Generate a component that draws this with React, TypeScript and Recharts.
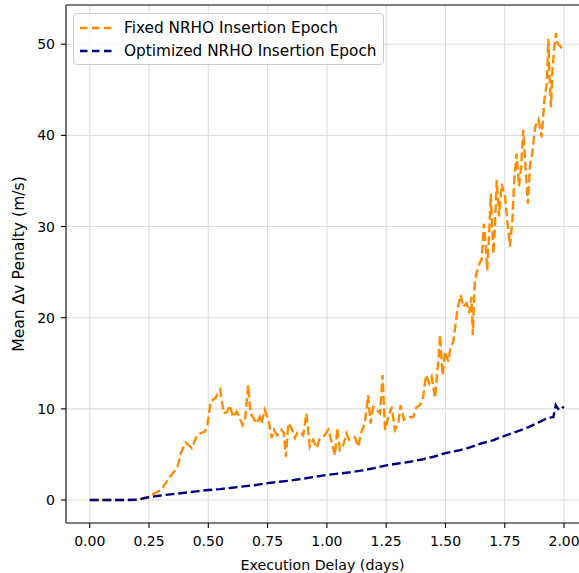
import React from 'react';
import { LineChart, Line, XAxis, YAxis, CartesianGrid, Legend, ReferenceLine } from 'recharts';

// Fixed insertion epoch: delay (days) vs mean penalty (m/s)
const fixedDelay = [
  0, 0.05, 0.1, 0.15, 0.2, 0.21, 0.25, 0.3, 0.34, 0.37, 0.385, 0.405, 0.43, 0.455, 0.485, 0.495,
  0.51, 0.53, 0.55, 0.565, 0.58, 0.59, 0.605, 0.62, 0.645, 0.655, 0.668, 0.678, 0.69, 0.703,
  0.717, 0.724, 0.738, 0.757, 0.767, 0.776, 0.79, 0.809, 0.818, 0.827, 0.837, 0.851, 0.865,
  0.876, 0.886, 0.9, 0.914, 0.928, 0.942, 0.957, 0.968, 0.985, 1.006, 1.02, 1.034, 1.044,
  1.055, 1.069, 1.083, 1.094, 1.104, 1.118, 1.132, 1.146, 1.16, 1.174, 1.184, 1.195, 1.21,
  1.224, 1.235, 1.245, 1.259, 1.273, 1.287, 1.301, 1.311, 1.325, 1.343, 1.364, 1.378, 1.392,
  1.406, 1.418, 1.432, 1.442, 1.456, 1.465, 1.47, 1.477, 1.488, 1.498, 1.512, 1.522, 1.533,
  1.54, 1.55, 1.564, 1.575, 1.589, 1.6, 1.61, 1.615, 1.624, 1.638, 1.653, 1.662, 1.671, 1.676,
  1.685, 1.691, 1.702, 1.709, 1.716, 1.726, 1.737, 1.751, 1.762, 1.772, 1.782, 1.79, 1.8, 1.81,
  1.819, 1.828, 1.835, 1.847, 1.857, 1.866, 1.878, 1.892, 1.906, 1.917, 1.927, 1.934, 1.938,
  1.945, 1.951, 1.959, 1.966, 1.973, 2.0,
];
const fixedPenalty = [
  0, 0, 0, 0, 0, 0.05, 0.4, 1.1, 2.6, 3.6, 5.2, 6.3, 5.7, 7.2, 7.5, 8.0,
  10.8, 11.2, 12.1, 9.5, 9.7, 10.4, 9.1, 9.7, 8.2, 8.8, 12.6, 9.5, 9.0, 8.4,
  9.1, 8.4, 9.9, 8.4, 6.8, 7.7, 7.1, 7.7, 7.4, 4.75, 8.4, 7.9, 6.8,
  7.4, 7.5, 7.1, 9.5, 5.85, 6.6, 5.7, 6.6, 6.9, 7.7, 6.4, 4.9, 7.9,
  5.5, 6.0, 7.3, 6.6, 6.8, 6.9, 5.85, 7.5, 8.4, 11.5, 8.4, 10.2, 9.9,
  9.5, 13.7, 7.7, 9.1, 10.2, 7.7, 8.4, 10.4, 8.8, 9.1, 9.1, 10.2, 10.4,
  11.3, 13.7, 12.8, 13.5, 11.2, 13.9, 15.2, 18.1, 13.7, 16.3, 15.2, 16.8, 17.4,
  18.8, 20.8, 22.5, 21.2, 21.6, 20.5, 22.3, 18.1, 24.1, 25.6, 26.5, 30.3, 27.4, 25.2,
  29.6, 33.6, 27.0, 30.3, 35.1, 31.1, 34.7, 33.3, 30.3, 27.8, 30.7, 35.1, 38.0, 34.4,
  36.5, 40.6, 37.6, 32.5, 36.9, 38.0, 40.9, 41.7, 39.8, 43.9, 45.7, 50.6, 46.8,
  43.1, 47.1, 49.7, 51.2, 50.1, 49.3,
];

// Optimized insertion epoch
const optDelay = [
  0, 0.05, 0.1, 0.15, 0.2, 0.25, 0.3, 0.35, 0.4, 0.45, 0.5, 0.55, 0.6, 0.65, 0.7, 0.75, 0.8,
  0.85, 0.9, 0.95, 1.0, 1.05, 1.1, 1.15, 1.2, 1.25, 1.3, 1.35, 1.4, 1.45, 1.5, 1.55, 1.6,
  1.65, 1.7, 1.75, 1.8, 1.85, 1.9, 1.93, 1.955, 1.965, 1.975, 1.985, 2.0,
];
const optPenalty = [
  0, 0, 0, 0, 0.05, 0.3, 0.5, 0.65, 0.8, 0.95, 1.1, 1.2, 1.35, 1.5, 1.65, 1.85, 2.0,
  2.15, 2.35, 2.55, 2.75, 2.9, 3.05, 3.25, 3.5, 3.8, 4.0, 4.2, 4.45, 4.75, 5.15, 5.4, 5.75,
  6.2, 6.55, 7.05, 7.5, 8.0, 8.6, 9.0, 9.1, 10.4, 10.0, 10.3, 10.1,
];

const xTicks = [0, 0.25, 0.5, 0.75, 1.0, 1.25, 1.5, 1.75, 2.0];
const yTicks = [0, 10, 20, 30, 40, 50];

const seriesNames = ['Fixed NRHO Insertion Epoch', 'Optimized NRHO Insertion Epoch'];
const seriesColors = ['#ff8c00', '#000080'];

const X_DOMAIN: [number, number] = [-0.1, 2.063];
const Y_DOMAIN: [number, number] = [-2.52, 54.3];
const FONT = '"DejaVu Sans", sans-serif';
const DASH = '8.9 3.8';
const LW = 2.4;

const fixedData = fixedDelay.map((d, i) => ({ delay: d, penalty: fixedPenalty[i] }));
const optData = optDelay.map((d, i) => ({ delay: d, penalty: optPenalty[i] }));

const LegendBox = () => (
  <div
    style={{
      border: '1px solid #cccccc',
      borderRadius: 4,
      background: 'rgba(255,255,255,0.8)',
      padding: '2px 6px 2px 6px',
      fontFamily: FONT,
      fontSize: 15.3,
      whiteSpace: 'nowrap',
      color: '#000',
    }}
  >
    {seriesNames.map((name, i) => (
      <div key={name} style={{ display: 'flex', alignItems: 'center', height: 23 }}>
        <svg width={32} height={6} style={{ marginRight: 12 }}>
          <line x1={0} y1={3} x2={32} y2={3} stroke={seriesColors[i]} strokeWidth={LW} strokeDasharray="7.5 4.5" />
        </svg>
        <span>{name}</span>
      </div>
    ))}
  </div>
);

const tickStyle = { fontFamily: FONT, fontSize: 14, fill: '#000' };

export default function App() {
  return (
    <div style={{ position: 'absolute', left: 0, top: 0, width: 579, height: 573, overflow: 'hidden', background: '#fff' }}>
      <LineChart width={579} height={573} margin={{ top: 5, right: 0, bottom: 0, left: 0 }}>
        <CartesianGrid stroke="#dedede" strokeWidth={1.1} verticalValues={xTicks} horizontalValues={yTicks} />
        <XAxis
          dataKey="delay"
          type="number"
          domain={X_DOMAIN}
          allowDataOverflow
          ticks={xTicks}
          tickFormatter={(v: number) => v.toFixed(2)}
          height={50}
          tick={tickStyle}
          tickSize={5}
          tickMargin={8}
          axisLine={{ stroke: '#000', strokeWidth: 1.1 }}
          tickLine={{ stroke: '#000', strokeWidth: 1.1 }}
          label={{ value: 'Execution Delay (days)', position: 'insideBottom', offset: 3, style: { fontFamily: FONT, fontSize: 14.2, fill: '#000' } }}
        />
        <YAxis
          type="number"
          domain={Y_DOMAIN}
          allowDataOverflow
          ticks={yTicks}
          width={66}
          tick={tickStyle}
          tickSize={5}
          tickMargin={6}
          axisLine={{ stroke: '#000', strokeWidth: 1.1 }}
          tickLine={{ stroke: '#000', strokeWidth: 1.1 }}
          label={{ value: 'Mean Δv Penalty (m/s)', angle: -90, position: 'insideLeft', offset: 18, style: { textAnchor: 'middle', fontFamily: FONT, fontSize: 15.6, fill: '#000' } }}
        />
        <ReferenceLine y={Y_DOMAIN[1]} stroke="#000" strokeWidth={1.1} />
        <Legend
          layout="vertical"
          align="center"
          verticalAlign="middle"
          wrapperStyle={{ top: 13, left: 73, width: 'auto' }}
          content={() => <LegendBox />}
        />
        <Line
          data={fixedData}
          dataKey="penalty"
          name={seriesNames[0]}
          type="linear"
          stroke={seriesColors[0]}
          strokeWidth={LW}
          strokeDasharray={DASH}
          dot={false}
          isAnimationActive={false}
        />
        <Line
          data={optData}
          dataKey="penalty"
          name={seriesNames[1]}
          type="linear"
          stroke={seriesColors[1]}
          strokeWidth={LW}
          strokeDasharray={DASH}
          dot={false}
          isAnimationActive={false}
        />
      </LineChart>
    </div>
  );
}
